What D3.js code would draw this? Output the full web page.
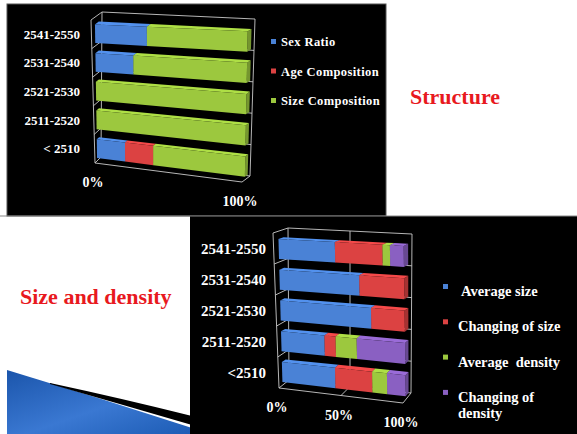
<!DOCTYPE html>
<html>
<head>
<meta charset="utf-8">
<script src="https://cdn.jsdelivr.net/npm/d3@7"></script>
<style>
  body { margin: 0; background: #fff; }
</style>
</head>
<body>
<svg id="chart" width="577" height="434"></svg>
<script>
// ---- data ----
var structureCats = ["2541-2550", "2531-2540", "2521-2530", "2511-2520", "< 2510"];
var structureNames = ["Sex Ratio", "Age Composition", "Size Composition"];
var sexRatio = [34, 25, 0, 0, 19];
var ageComposition = [0, 0, 0, 0, 19];
var sizeComposition = [66, 75, 100, 100, 62];
var structureTicks = [0, 100];

var densityCats = ["2541-2550", "2531-2540", "2521-2530", "2511-2520", "<2510"];
var densityNames = ["Average size", "Changing of size", "Average  density", "Changing of density"];
var averageSize = [45, 64, 73, 35, 43];
var changingOfSize = [38, 36, 27, 9, 30];
var averageDensity = [6, 0, 0, 17, 12];
var changingOfDensity = [11, 0, 0, 39, 15];
var densityTicks = [0, 50, 100];

var seriesColors = ["#4a82d6", "#dc4242", "#9cc83e", "#8a60c2"];
var structureColors = ["#4a82d6", "#dc4242", "#9cc83e"];

var SERIF = "'Liberation Serif', 'Tinos', 'Noto Serif', 'DejaVu Serif', 'FreeSerif', 'Nimbus Roman', 'Times New Roman', serif";

var svg = d3.select("#chart");

// ---- slide background ----
svg.append("rect").attr("x", 0).attr("y", 0).attr("width", 577).attr("height", 434).attr("fill", "#fff");

var grad = svg.append("defs").append("linearGradient").attr("id", "swoosh")
    .attr("x1", "0").attr("y1", "0").attr("x2", "1").attr("y2", "1");
grad.append("stop").attr("offset", "0%").attr("stop-color", "#1b55ab");
grad.append("stop").attr("offset", "55%").attr("stop-color", "#3a78d2");
grad.append("stop").attr("offset", "100%").attr("stop-color", "#1d5cb5");

svg.append("path")
    .attr("d", "M7,370 Q100,398 192,428 L192,434 L7,434 Z")
    .attr("fill", "url(#swoosh)");
svg.append("path")
    .attr("d", "M50,383 Q120,398 192,416 L192,425 Q120,404 50,384 Z")
    .attr("fill", "#000");

svg.append("rect").attr("x", 7).attr("y", 4).attr("width", 379).attr("height", 212)
    .attr("fill", "#000").attr("stroke", "#555").attr("stroke-width", 1);
svg.append("rect").attr("x", 190).attr("y", 216).attr("width", 387).attr("height", 218)
    .attr("fill", "#000");
svg.append("line").attr("x1", 0).attr("x2", 577).attr("y1", 216).attr("y2", 216)
    .attr("stroke", "#888").attr("stroke-width", 1.2);

svg.append("text").attr("x", 410).attr("y", 104).attr("fill", "#e8191e")
    .attr("font-family", SERIF).attr("font-weight", "bold")
    .style("font-size", "22px").text("Structure");
svg.append("text").attr("x", 20).attr("y", 304).attr("fill", "#e8191e")
    .attr("font-family", SERIF).attr("font-weight", "bold")
    .style("font-size", "22px").text("Size and density");

// ---- 3D-ish projection: bilinear between a front plane and a back plane ----
function makeProj(front, back) {
    function bil(c, x, y) {
        var t = [c.tl[0] + (c.tr[0] - c.tl[0]) * x, c.tl[1] + (c.tr[1] - c.tl[1]) * x];
        var b = [c.bl[0] + (c.br[0] - c.bl[0]) * x, c.bl[1] + (c.br[1] - c.bl[1]) * x];
        return [t[0] + (b[0] - t[0]) * y, t[1] + (b[1] - t[1]) * y];
    }
    return function (x, y, z) {
        var f = bil(front, x, y), b = bil(back, x, y);
        return [f[0] + (b[0] - f[0]) * z, f[1] + (b[1] - f[1]) * z];
    };
}

function poly(pts) { return "M" + pts.map(function (p) { return p[0] + "," + p[1]; }).join("L") + "Z"; }

function drawChart(g, o) {
    var P = o.proj;
    var xs = d3.scaleLinear().domain([0, 100]).range([0, 1]);
    var ys = d3.scaleBand().domain(o.cats).range([0, 1]);
    var bw = ys.bandwidth();
    var frame = "#c9c9c9";

    function seg(a, b) {
        g.append("line").attr("x1", a[0]).attr("y1", a[1]).attr("x2", b[0]).attr("y2", b[1])
            .attr("stroke", frame).attr("stroke-width", 0.9);
    }

    // walls and floor edges
    seg(P(0, 0, 1), P(1, 0, 1));
    seg(P(1, 0, 1), P(1, 1, 1));
    seg(P(0, 0, 1), P(0, 1, 1));
    seg(P(0, 1, 1), P(1, 1, 1));
    seg(P(0, 0, 0), P(0, 1, 0));
    seg(P(0, 0, 0), P(0, 0, 1));
    seg(P(0, 1, 0), P(0, 1, 1));
    seg(P(0, 1, 0), P(1, 1, 0));
    seg(P(1, 1, 0), P(1, 1, 1));
    // category boundaries
    o.cats.forEach(function (c, i) {
        if (i === 0) return;
        var y = ys(c);
        seg(P(0, y, 0), P(0, y, 1));
        seg(P(0, y, 1), P(1, y, 1));
    });
    // value gridlines
    o.ticks.forEach(function (t) {
        if (t === 0 || t === 100) return;
        seg(P(xs(t), 0, 1), P(xs(t), 1, 1));
        seg(P(xs(t), 1, 1), P(xs(t), 1, 0));
    });

    // bars, bottom category first so upper bars stay in front
    var zf = 0.35, zb = 0.7;
    o.cats.slice().reverse().forEach(function (c) {
        var i = o.cats.indexOf(c);
        var y0 = ys(c) + bw * 0.25, y1 = ys(c) + bw * 0.9;
        var acc = 0;
        o.series.forEach(function (s, k) {
            var v = s[i];
            if (!v) return;
            var a = xs(acc), b = xs(acc + v);
            acc += v;
            var col = d3.color(o.colors[k]);
            g.append("path").attr("d", poly([P(b, y0, zf), P(b, y0, zb), P(b, y1, zb), P(b, y1, zf)]))
                .attr("fill", col.darker(0.8));
            g.append("path").attr("d", poly([P(a, y0, zf), P(b, y0, zf), P(b, y0, zb), P(a, y0, zb)]))
                .attr("fill", col.brighter(0.3));
            g.append("path").attr("d", poly([P(a, y0, zf), P(b, y0, zf), P(b, y1, zf), P(a, y1, zf)]))
                .attr("fill", col);
        });
    });

    // category labels
    g.selectAll("text.cat").data(o.cats).enter().append("text")
        .attr("class", "cat")
        .attr("x", o.labelX)
        .attr("y", function (d) { return P(0, ys(d) + bw / 2, 0)[1] + o.catSize * 0.35; })
        .attr("text-anchor", "end")
        .attr("fill", "#fff")
        .attr("font-family", SERIF).attr("font-weight", "bold")
        .style("font-size", o.catSize + "px")
        .text(function (d) { return d; });

    // value tick labels
    g.selectAll("text.tick").data(o.ticks).enter().append("text")
        .attr("class", "tick")
        .attr("x", function (d) { return P(xs(d), 1, 0)[0] - 2; })
        .attr("y", function (d) { return P(xs(d), 1, 0)[1] + 24; })
        .attr("text-anchor", "middle")
        .attr("fill", "#fff")
        .attr("font-family", SERIF).attr("font-weight", "bold")
        .style("font-size", "14px")
        .text(function (d) { return d + "%"; });
}

// ---- Structure chart ----
var top3d = makeProj(
    { tl: [91, 20], tr: [244, 26], bl: [95, 163], br: [242, 182] },
    { tl: [102, 12], tr: [255, 19], bl: [101, 157], br: [250, 176] });
drawChart(svg.append("g"), {
    proj: top3d, cats: structureCats,
    series: [sexRatio, ageComposition, sizeComposition],
    colors: structureColors, ticks: structureTicks,
    labelX: 80, catSize: 13
});

var legTop = svg.append("g");
structureNames.forEach(function (n, i) {
    var y = 40 + i * 29.5;
    legTop.append("rect").attr("x", 271).attr("y", y - 1).attr("width", 5).attr("height", 5)
        .attr("fill", structureColors[i]);
    legTop.append("text").attr("x", 281).attr("y", y + 6).attr("fill", "#fff")
        .attr("font-family", SERIF).attr("font-weight", "bold")
        .style("font-size", "12.5px").style("letter-spacing", "0.4px").text(n);
});

// ---- Size and density chart ----
var bot3d = makeProj(
    { tl: [273, 233], tr: [399, 240], bl: [279, 388], br: [403, 403] },
    { tl: [288, 228], tr: [412, 234], bl: [289, 380], br: [411, 393] });
drawChart(svg.append("g"), {
    proj: bot3d, cats: densityCats,
    series: [averageSize, changingOfSize, averageDensity, changingOfDensity],
    colors: seriesColors, ticks: densityTicks,
    labelX: 266, catSize: 15
});

var legBot = svg.append("g");
densityNames.forEach(function (n, i) {
    var y = 287 + i * 35.3;
    legBot.append("rect").attr("x", 443).attr("y", y - 3).attr("width", 5).attr("height", 5)
        .attr("fill", seriesColors[i]);
    var t = legBot.append("text").attr("x", i === 0 ? 461 : 458).attr("y", y + 9)
        .attr("fill", "#fff").attr("font-family", SERIF).attr("font-weight", "bold")
        .style("font-size", "14.5px").style("white-space", "pre");
    if (n === "Changing of density") {
        t.append("tspan").attr("x", 458).text("Changing of");
        t.append("tspan").attr("x", 458).attr("dy", 16).text("density");
    } else {
        t.text(n);
    }
});
</script>
</body>
</html>
